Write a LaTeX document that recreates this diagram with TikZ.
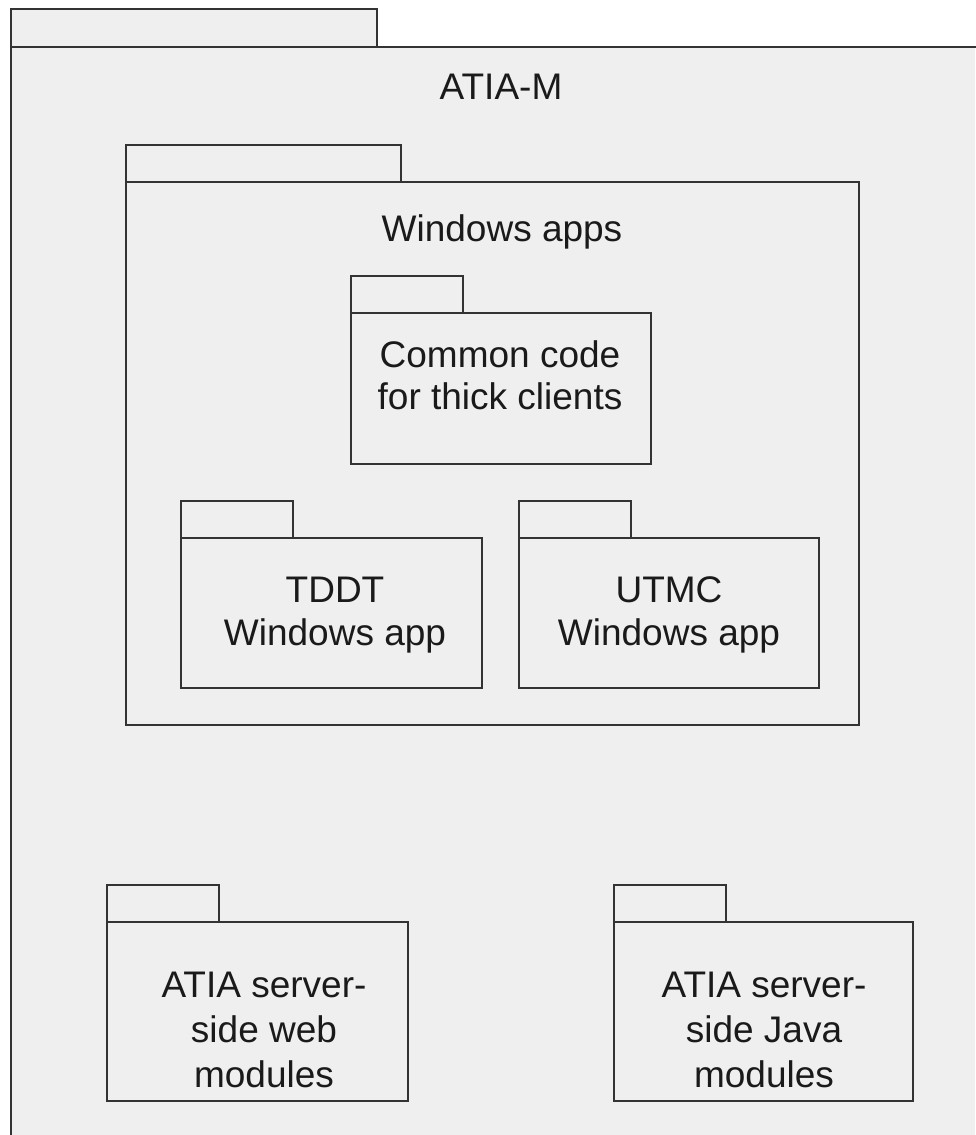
\documentclass[tikz,border=0pt]{standalone}
\usepackage{fontspec}
\setmainfont{Liberation Sans}
\definecolor{bg}{HTML}{EFEFEF}
\definecolor{ln}{HTML}{333333}
\definecolor{tx}{HTML}{1A1A1A}
\tikzset{
  pkgline/.style={draw=ln, line width=1.8pt, fill=bg, line join=miter},
  frameline/.style={draw=ln, line width=2pt},
  lbl/.style={font=\fontsize{37}{44}\selectfont, text=tx, anchor=base, inner sep=0pt},
}
% name, x1, ytab, xtab, ymain, x2, ybot
\newcommand\pkgbox[7]{%
  \path[pkgline] (#2,#3) rectangle (#4,#5);
  \path[pkgline] (#2,#5) rectangle (#6,#7);
  \coordinate (#1) at ({(#2+#6)/2},{(#5+#7)/2});
}
\begin{document}
\begin{tikzpicture}[x=1pt,y=-1pt]
\useasboundingbox (0,0) rectangle (975,1135);
\fill[white] (0,0) rectangle (975,1135);
% outer package ATIA-M
\fill[bg] (11,9) rectangle (377,47);
\fill[bg] (11,47) rectangle (975,1135);
\draw[frameline] (11,1140) -- (11,9) -- (377,9) -- (377,47);
\draw[frameline] (11,47) -- (980,47);
\node[lbl] (atiam) at (501,99) {ATIA-M};
% Windows apps
\pkgbox{winapps}{126}{145}{401}{182}{859}{725}
\node[lbl] (winappsl) at (502,241) {Windows apps};
% Common code
\pkgbox{common}{351}{276}{463}{313}{651}{464}
\node[lbl] (common1) at (500,367) {Common code};
\node[lbl] (common2) at (500,409) {for thick clients};
% TDDT
\pkgbox{tddt}{181}{501}{293}{538}{482}{688}
\node[lbl] (tddt1) at (335,602) {TDDT};
\node[lbl] (tddt2) at (335,645) {Windows app};
% UTMC
\pkgbox{utmc}{519}{501}{631}{538}{819}{688}
\node[lbl] (utmc1) at (669,602) {UTMC};
\node[lbl] (utmc2) at (669,645) {Windows app};
% ATIA server-side web modules
\pkgbox{web}{107}{885}{219}{922}{408}{1101}
\node[lbl] (web1) at (264,997) {ATIA server-};
\node[lbl] (web2) at (264,1042) {side web};
\node[lbl] (web3) at (264,1087) {modules};
% ATIA server-side Java modules
\pkgbox{java}{614}{885}{726}{922}{913}{1101}
\node[lbl] (java1) at (764,997) {ATIA server-};
\node[lbl] (java2) at (764,1042) {side Java};
\node[lbl] (java3) at (764,1087) {modules};
\end{tikzpicture}
\end{document}
